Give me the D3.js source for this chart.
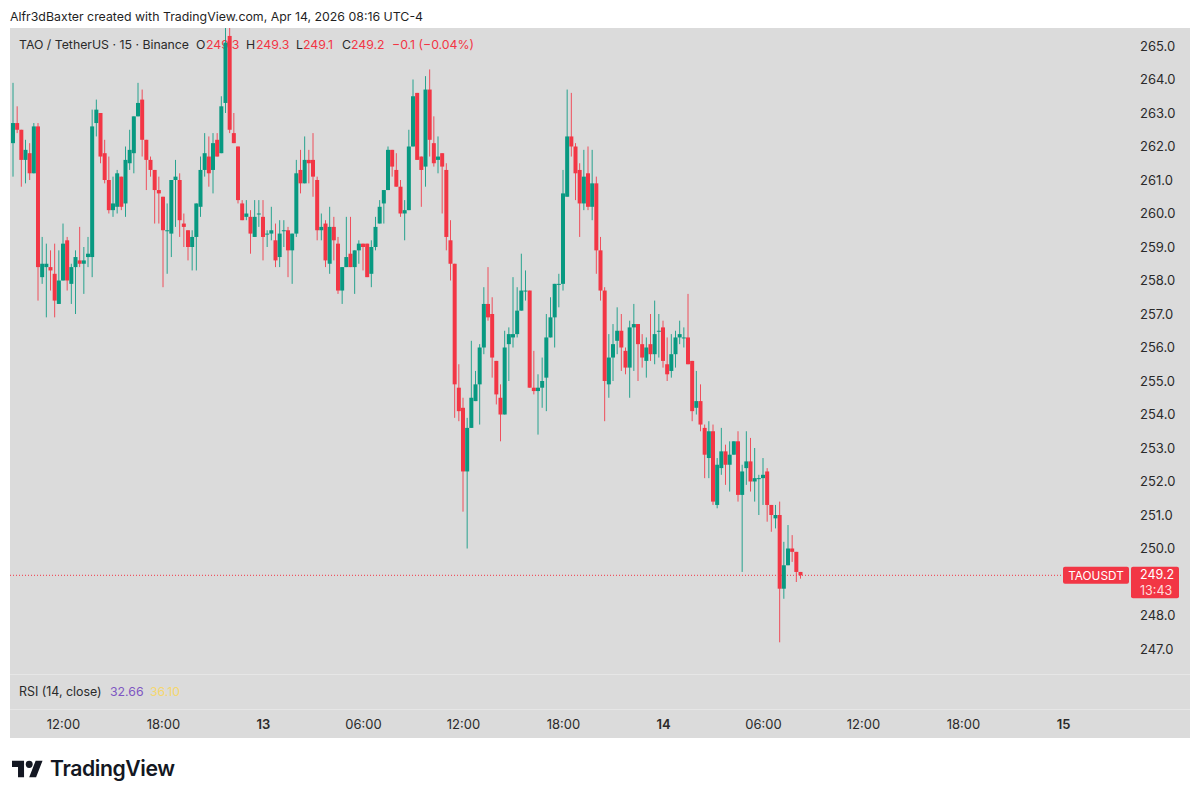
<!DOCTYPE html>
<html lang="en">
<head>
    <meta charset="UTF-8">
    <title>TAO / TetherUS 15m</title>
    <style>
        html, body {
            margin: 0;
            background: #fff;
        }

        svg {
            display: block;
        }

        text {
            font-family: 'Inter', 'Liberation Sans', sans-serif;
        }

        .tick text {
            font-size: 13px;
            fill: #2a2a2a;
        }
    </style>
</head>
<body>

<div id="chart"></div>

<script src="https://d3js.org/d3.v7.min.js"></script>
<script>
    // 15 minute candles, first one at Apr 12 09:00, one value per candle
    const opens = [262.1,262.7,262.5,261.6,261.8,261.2,262.6,258.1,258.4,258.4,258.2,257.3,258.0,259.2,257.9,258.4,258.6,258.5,258.7,258.7,
        262.7,263.0,261.8,261.0,260.1,260.2,261.1,260.3,261.5,261.8,262.9,263.4,262.2,261.6,261.3,260.7,260.5,259.5,259.4,261.0,
        261.0,259.7,259.5,259.0,259.3,260.2,261.3,261.7,261.3,262.2,261.8,263.3,265.3,262.4,262.0,260.3,259.9,259.9,259.3,260.0,
        259.9,259.4,259.4,259.2,258.7,259.5,259.5,258.9,259.4,261.3,260.9,261.6,261.6,261.0,259.5,259.7,258.5,259.6,259.1,257.7,
        258.4,258.8,258.4,258.9,259.1,259.1,258.2,259.0,259.7,260.3,260.7,261.9,261.3,260.8,260.0,260.1,262.0,263.6,261.7,261.4,
        263.7,262.1,261.6,261.8,261.3,259.2,258.5,254.8,254.2,252.3,253.6,254.4,254.9,256.0,257.3,257.0,255.6,254.5,254.0,256.1,
        256.3,256.4,257.1,257.7,257.7,254.8,254.7,254.8,255.1,256.3,256.9,257.9,257.9,260.5,262.3,262.0,261.3,260.3,261.2,260.2,
        260.9,258.9,257.7,254.9,255.7,256.2,256.5,255.9,255.4,256.6,256.7,256.1,255.6,256.1,255.8,256.5,256.6,255.5,255.3,255.8,
        256.3,256.3,256.3,255.6,254.2,254.4,253.6,252.7,253.5,251.3,252.4,252.9,252.5,252.8,253.2,251.6,252.4,252.6,252.0,252.1,
        252.1,252.3,251.3,250.9,251.0,248.8,249.5,250.0,249.9,249.3];
    const highs = [263.9,263.2,262.5,262.2,262.1,262.7,262.7,259.3,259.1,258.9,259.1,258.9,259.7,259.3,258.5,258.9,259.6,259.0,259.3,263.1,
        263.4,263.0,262.2,261.7,261.1,261.3,261.1,262.0,262.5,262.9,263.9,263.7,262.2,261.7,261.3,261.1,260.5,260.3,261.0,261.6,
        261.2,260.0,259.5,259.5,260.3,261.7,262.4,262.3,262.4,262.4,263.5,265.8,265.8,263.0,262.0,260.4,260.4,260.1,260.4,260.4,
        260.4,259.5,260.2,259.7,259.8,259.8,259.6,259.4,261.6,261.9,262.3,261.9,262.4,261.1,260.0,259.8,260.2,259.9,259.3,258.4,
        259.9,259.9,258.9,259.2,259.1,259.1,259.2,259.9,260.4,260.7,262.0,261.9,261.8,261.0,260.4,262.5,264.0,263.6,261.7,264.1,
        264.3,262.9,262.3,261.8,261.5,259.8,258.5,255.5,254.5,253.9,256.2,255.3,256.1,257.8,258.4,257.5,255.6,254.9,256.5,256.6,
        258.1,257.8,258.8,258.3,257.7,255.9,255.2,255.7,257.0,257.5,257.9,258.2,261.3,263.7,263.6,262.1,261.5,261.9,262.0,261.9,
        261.1,259.3,257.8,256.4,256.7,257.2,257.0,256.0,256.8,257.3,256.7,256.4,256.3,257.0,257.4,257.0,256.8,256.3,256.4,256.5,
        256.8,256.6,257.6,255.6,255.3,254.9,253.7,253.8,253.7,252.7,253.6,253.1,253.2,253.2,253.5,252.5,253.5,253.3,253.0,252.2,
        252.7,252.4,251.3,251.3,251.4,250.2,250.7,250.4,249.9,249.3];
    const lows = [261.1,262.4,260.8,260.9,261.0,261.2,257.4,257.9,256.9,257.7,256.9,257.3,258.0,257.7,257.3,257.0,258.4,257.6,258.4,258.1,
        262.3,261.5,260.9,260.0,259.9,260.0,260.1,259.9,261.3,261.2,262.9,261.7,260.7,261.1,259.7,259.7,257.8,258.2,258.7,259.6,
        259.3,259.0,258.6,258.3,258.3,259.9,261.1,260.8,260.6,261.7,261.8,263.0,262.4,262.1,260.3,259.8,259.8,258.8,259.3,259.6,
        258.6,259.0,259.2,258.4,258.4,259.0,258.1,257.9,259.3,260.6,260.9,260.9,260.5,259.2,259.2,258.4,258.2,258.6,257.6,257.3,
        258.4,258.4,257.6,258.5,258.3,258.1,257.8,258.9,259.7,259.7,260.7,261.1,260.8,259.9,259.2,260.1,262.0,261.6,260.2,260.8,
        261.7,261.4,261.2,260.0,258.9,258.0,253.9,253.8,251.1,250.0,253.6,254.4,253.7,255.8,256.8,255.1,254.3,253.2,254.0,255.0,
        256.0,256.3,257.1,257.4,254.8,254.6,253.4,254.2,254.1,256.3,256.0,257.2,257.7,260.5,261.7,260.4,259.3,260.1,260.1,259.8,
        258.2,257.4,253.8,254.5,255.0,255.8,255.3,255.2,254.5,255.3,255.0,255.4,255.1,255.6,255.5,255.7,255.4,255.0,255.1,255.4,
        256.1,256.0,255.5,253.8,254.0,253.5,252.1,252.1,251.3,251.2,252.2,251.9,251.7,252.8,251.4,249.3,251.9,251.7,251.4,251.0,
        251.3,250.8,250.5,250.6,247.2,248.5,249.5,249.6,249.0,249.1];
    const closes = [262.7,262.5,261.6,261.9,261.2,262.6,258.4,258.5,258.5,258.3,257.4,258.0,259.1,258.0,258.4,258.7,258.5,258.6,258.8,262.6,
        263.1,261.7,261.0,260.1,260.3,261.2,260.2,261.6,261.9,262.9,263.3,262.2,261.6,261.3,260.7,260.6,259.5,259.5,261.0,261.1,
        259.8,259.6,259.0,259.3,260.3,261.3,261.8,261.2,262.1,261.7,263.2,265.1,262.5,262.1,260.4,259.8,260.0,259.4,259.9,260.0,
        259.3,259.4,259.5,258.6,259.4,259.5,258.9,259.4,261.2,260.9,261.6,261.5,261.1,259.5,259.6,258.6,259.6,259.2,257.7,258.4,
        258.7,258.4,258.9,259.1,259.0,258.1,259.0,259.6,260.2,260.7,261.9,261.4,260.8,260.0,260.1,262.0,263.5,261.6,261.3,263.7,
        262.2,261.5,261.7,261.4,259.3,258.5,254.9,254.1,252.3,253.6,254.5,254.9,256.0,257.3,256.9,255.7,254.6,254.0,256.0,256.4,
        256.4,257.1,257.7,257.7,254.8,254.7,254.8,255.0,256.3,256.9,257.9,257.9,260.6,262.3,262.0,261.2,260.3,261.1,260.2,260.9,
        258.9,257.7,255.0,255.7,256.1,256.5,256.0,255.4,256.6,256.7,256.1,255.7,256.0,255.8,256.4,256.5,255.6,255.2,255.8,256.3,
        256.4,256.3,255.5,254.1,254.4,253.7,252.8,253.5,251.4,252.5,252.9,252.5,252.8,253.2,251.6,252.3,252.6,252.0,252.1,252.1,
        252.2,251.3,251.0,251.0,248.8,249.5,250.0,249.9,249.3,249.2];

    // 249.0 sits behind the last price tag in the picture, so it is left out
    const priceTicks = [247, 248, 250, 251, 252, 253, 254, 255, 256, 257, 258, 259, 260, 261, 262, 263, 264, 265];
    const timeTicks = [
        Date.UTC(2026, 3, 12, 12), Date.UTC(2026, 3, 12, 18), Date.UTC(2026, 3, 13, 0), Date.UTC(2026, 3, 13, 6),
        Date.UTC(2026, 3, 13, 12), Date.UTC(2026, 3, 13, 18), Date.UTC(2026, 3, 14, 0), Date.UTC(2026, 3, 14, 6),
        Date.UTC(2026, 3, 14, 12), Date.UTC(2026, 3, 14, 18), Date.UTC(2026, 3, 15, 0)
    ];
    const timeLabels = ["12:00", "18:00", "13", "06:00", "12:00", "18:00", "14", "06:00", "12:00", "18:00", "15"];
    const firstCandle = Date.UTC(2026, 3, 12, 9);
    const candleMs = 15 * 60 * 1000;

    const up = "#089981";
    const down = "#f23645";

    const svg = d3.select("#chart").append("svg")
        .attr("width", 1200)
        .attr("height", 800);

    const x = d3.scaleUtc()
        .domain([timeTicks[0], timeTicks[timeTicks.length - 1]])
        .range([63, 1063]);

    const y = d3.scaleLinear()
        .domain([247, 265])
        .range([649, 46]);

    // panel background and the two pane separators
    svg.append("rect").attr("x", 10).attr("y", 28).attr("width", 1180).attr("height", 710).attr("fill", "#dbdbdb");
    svg.append("rect").attr("x", 10).attr("y", 674).attr("width", 1180).attr("height", 1).attr("fill", "#e6e6e6");
    svg.append("rect").attr("x", 10).attr("y", 709).attr("width", 1180).attr("height", 1).attr("fill", "#e6e6e6");

    svg.append("clipPath").attr("id", "pane")
        .append("rect").attr("x", 10).attr("y", 28).attr("width", 1180).attr("height", 646);

    // header line
    svg.append("text").attr("x", 10).attr("y", 21).attr("font-size", 12.35).attr("fill", "#1f1f1f")
        .text("Alfr3dBaxter created with TradingView.com, Apr 14, 2026 08:16 UTC-4");

    // legend goes under the candles
    const last = opens.length - 1;
    const legend = [
        { x: 19, s: "TAO / TetherUS · 15 · Binance", c: "#2a2a2a" },
        { x: 196, s: "O", c: "#2a2a2a" },
        { x: 206, s: opens[last].toFixed(1), c: down },
        { x: 246, s: "H", c: "#2a2a2a" },
        { x: 256, s: highs[last].toFixed(1), c: down },
        { x: 296, s: "L", c: "#2a2a2a" },
        { x: 303, s: lows[last].toFixed(1), c: down },
        { x: 342, s: "C", c: "#2a2a2a" },
        { x: 351, s: closes[last].toFixed(1), c: down },
        { x: 392, s: "−0.1 (−0.04%)", c: down }
    ];
    svg.append("g").selectAll("text")
        .data(legend)
        .enter().append("text")
        .attr("x", d => d.x)
        .attr("y", 49)
        .attr("font-size", 12.3)
        .attr("fill", d => d.c)
        .text(d => d.s);

    // last price dotted line
    svg.append("line")
        .attr("x1", 10).attr("x2", 1063)
        .attr("y1", y(closes[last])).attr("y2", y(closes[last]))
        .attr("stroke", down).attr("stroke-width", 1).attr("stroke-dasharray", "1 2");

    // candles
    const candles = svg.append("g").attr("clip-path", "url(#pane)")
        .selectAll("g")
        .data(d3.range(opens.length))
        .enter().append("g");

    const cx = i => x(firstCandle + i * candleMs);
    const color = i => closes[i] >= opens[i] ? up : down;

    candles.append("line")
        .attr("x1", cx).attr("x2", cx)
        .attr("y1", i => y(highs[i]))
        .attr("y2", i => y(lows[i]))
        .attr("stroke", color)
        .attr("stroke-opacity", 0.85)
        .attr("stroke-width", 1);

    candles.append("rect")
        .attr("x", i => cx(i) - 2)
        .attr("width", 4)
        .attr("y", i => y(Math.max(opens[i], closes[i])))
        .attr("height", i => Math.max(1, Math.abs(y(opens[i]) - y(closes[i]))))
        .attr("fill", color);

    // price axis
    const yAxis = svg.append("g")
        .attr("transform", "translate(1140,0)")
        .call(d3.axisRight(y).tickValues(priceTicks).tickSize(0).tickPadding(0).tickFormat(d3.format(".1f")));
    yAxis.select(".domain").remove();

    // time axis
    const xAxis = svg.append("g")
        .attr("transform", "translate(0,720)")
        .call(d3.axisBottom(x).tickValues(timeTicks).tickSize(0).tickPadding(0).tickFormat((d, i) => timeLabels[i]));
    xAxis.select(".domain").remove();
    xAxis.selectAll("text")
        .attr("font-weight", (d, i) => timeLabels[i].length == 2 ? 600 : 400);

    // last price tags
    const tagY = y(closes[last]) - 8.5;
    svg.append("rect").attr("x", 1063).attr("y", tagY).attr("width", 66).attr("height", 17).attr("rx", 2).attr("fill", down);
    svg.append("rect").attr("x", 1131).attr("y", tagY).attr("width", 48).attr("height", 31.5).attr("rx", 2).attr("fill", down);
    svg.append("text").attr("x", 1096).attr("y", tagY + 13).attr("text-anchor", "middle")
        .attr("font-size", 11.8).attr("fill", "#fff").text("TAOUSDT");
    svg.append("text").attr("x", 1140).attr("y", tagY + 12.5)
        .attr("font-size", 12.5).attr("fill", "#fff").text(closes[last].toFixed(1));
    svg.append("text").attr("x", 1140).attr("y", tagY + 28.5)
        .attr("font-size", 12.5).attr("fill", "#fdd").text("13:43");

    // RSI pane legend
    svg.append("text").attr("x", 19).attr("y", 696).attr("font-size", 12.4).attr("fill", "#2a2a2a").text("RSI (14, close)");
    svg.append("text").attr("x", 110).attr("y", 696).attr("font-size", 12.3).attr("fill", "#7e57c2").text("32.66");
    svg.append("text").attr("x", 150).attr("y", 696).attr("font-size", 12.3).attr("fill", "#f5d76e").text("36.10");

    // TradingView logo
    const logo = svg.append("g").attr("transform", "translate(12,757) scale(0.86,0.92)").attr("fill", "#131722");
    logo.append("path").attr("d", "M14 22H7V11H0V4h14v18zM28 22h-8l7.5-18h8L28 22z");
    logo.append("circle").attr("cx", 20).attr("cy", 8).attr("r", 4);
    svg.append("text").attr("x", 50).attr("y", 776).attr("font-size", 21.2).attr("font-weight", 600)
        .attr("letter-spacing", -0.4).attr("fill", "#131722").text("TradingView");
</script>

</body>
</html>
